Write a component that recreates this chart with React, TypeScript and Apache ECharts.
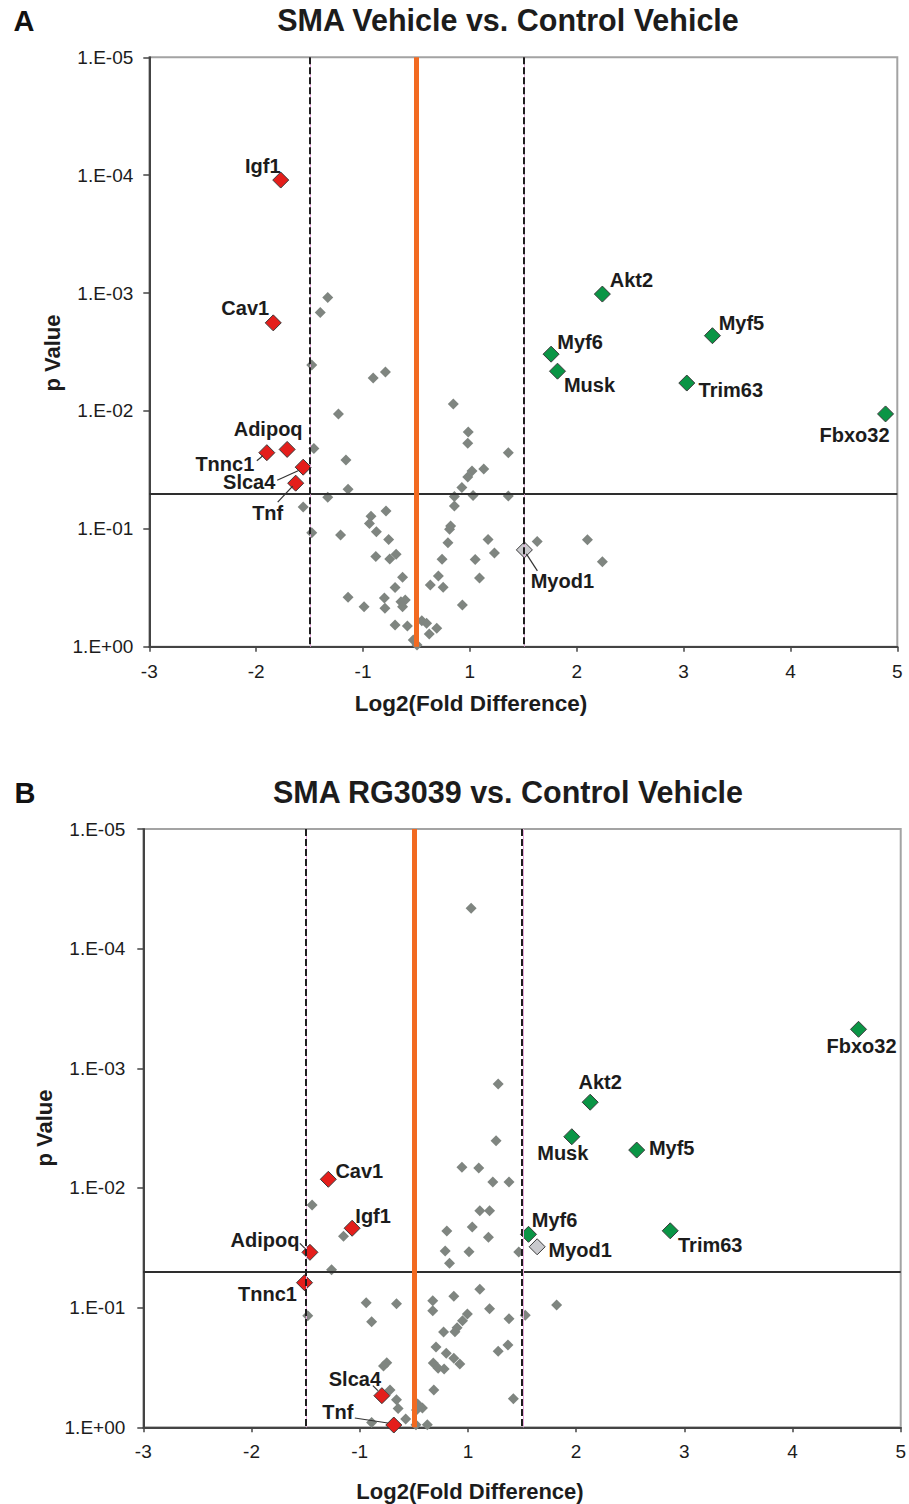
import React, { useEffect, useRef } from "react";
import * as echarts from "echarts";

const FONT = '"Liberation Sans", Arial, Helvetica, sans-serif';

// Axis tick labels (the original axis skips 0: -1 and 1 are adjacent ticks)
const xTickLabels = ["-3", "-2", "-1", "1", "2", "3", "4", "5"];
const yTickLabels = ["1.E-05", "1.E-04", "1.E-03", "1.E-02", "1.E-01", "1.E+00"];

const foldThreshold = 1.5;
const pThreshold = 0.05;

const titleA = "SMA Vehicle vs. Control Vehicle";
const titleB = "SMA RG3039 vs. Control Vehicle";
const xTitle = "Log2(Fold Difference)";
const yTitle = "p Value";

// ---------- Panel A ----------
const aGrayX = [-1.33, -1.4, -1.48, -0.81, -0.58, 0.69, -1.23, 0.97, 0.96, 1.36, -1.46, -1.16, 1.02, 1.13, 0.96, 0.85, 0.71, 1.03, 1.36, -1.14, -1.33, -1.56, -1.48, -1.21, -0.57, -0.85, -0.88, -0.75, -0.52, -0.76, -0.5, -0.38, -0.26, -0.4, -1.14, -0.98, -0.6, -0.59, -0.29, -0.21, -0.26, -0.4, -0.17, -0.06, 0.01, 0.1, 0.19, 0.24, 0.38, 0.26, 0.41, 0.5, 0.48, 0.59, 0.62, 0.64, 0.71, 1.17, 1.23, 1.05, 1.09, 0.86, 1.63, 2.1, 2.24];
const aGrayP = [0.00109, 0.00146, 0.00408, 0.00526, 0.00468, 0.00874, 0.0106, 0.0151, 0.0188, 0.0226, 0.0208, 0.0261, 0.0324, 0.0311, 0.0364, 0.0447, 0.0532, 0.0522, 0.0527, 0.0462, 0.054, 0.0653, 0.108, 0.113, 0.0706, 0.0783, 0.0902, 0.106, 0.123, 0.172, 0.18, 0.164, 0.258, 0.315, 0.381, 0.458, 0.386, 0.472, 0.415, 0.402, 0.458, 0.655, 0.667, 0.877, 0.968, 0.602, 0.634, 0.78, 0.698, 0.3, 0.251, 0.313, 0.181, 0.131, 0.101, 0.0946, 0.0641, 0.123, 0.16, 0.182, 0.261, 0.443, 0.128, 0.124, 0.19];

const aGenes = ["Myod1", "Igf1", "Cav1", "Adipoq", "Tnnc1", "Slca4", "Tnf", "Akt2", "Myf5", "Myf6", "Musk", "Trim63", "Fbxo32"];
const aGeneX = [1.51, -1.77, -1.84, -1.71, -1.9, -1.56, -1.63, 2.24, 3.27, 1.76, 1.82, 3.03, 4.89];
const aGeneP = [0.151, 0.00011, 0.00179, 0.0212, 0.0226, 0.03, 0.041, 0.00102, 0.0023, 0.0033, 0.0046, 0.0058, 0.0106];
const aGeneGroup = ["ns", "down", "down", "down", "down", "down", "down", "up", "up", "up", "up", "up", "up"];
const aLabelOffsets = [[38, 31], [-18, -14], [-28, -15], [-19, -20], [-42, 11], [-54, 15], [-28, 30], [29, -14], [29, -13], [29, -12], [32, 14], [44, 7], [-31, 21]];
const aLeaders: [string, number, number, number, number][] = [
  ["Tnnc1", -10, 8, -4, 3],
  ["Slca4", -26, 13, -4, 3],
  ["Tnf", -18, 19, -3, 3],
  ["Myod1", 2, 4, 13, 21],
];

// ---------- Panel B ----------
const bGrayX = [1.03, 1.28, 1.26, 0.89, 1.1, 1.23, 1.38, -1.44, 1.11, 1.2, -1.15, 0.61, 1.04, 1.19, 0.58, 1.01, 0.66, 1.47, -1.26, -0.88, -0.32, -0.78, -1.48, 0.35, 0.35, 0.74, 1.11, 1.2, 1.38, 1.53, 1.82, 0.99, 0.9, 0.8, 0.76, 0.55, 1.28, 1.37, 0.41, 0.6, 0.74, 0.85, 0.36, 0.45, 0.56, -0.5, -0.56, 0.37, 1.42, -0.44, -0.32, -0.29, 0.07, 0.16, 0.05, -0.15, 0.04, 0.25, -0.78];
const bGrayP = [0.000046, 0.00135, 0.00403, 0.00672, 0.00681, 0.00891, 0.00891, 0.0139, 0.0155, 0.0155, 0.0253, 0.0229, 0.0212, 0.0258, 0.0336, 0.0341, 0.0426, 0.0343, 0.0482, 0.091, 0.0927, 0.131, 0.117, 0.0875, 0.106, 0.0804, 0.0703, 0.102, 0.124, 0.116, 0.095, 0.113, 0.129, 0.147, 0.159, 0.16, 0.231, 0.205, 0.213, 0.241, 0.265, 0.296, 0.29, 0.321, 0.326, 0.289, 0.307, 0.488, 0.577, 0.488, 0.588, 0.697, 0.638, 0.69, 0.717, 0.853, 0.951, 0.951, 0.912];

const bGenes = ["Myod1", "Cav1", "Igf1", "Adipoq", "Tnnc1", "Slca4", "Tnf", "Fbxo32", "Akt2", "Musk", "Myf5", "Myf6", "Trim63"];
const bGeneX = [1.64, -1.29, -1.07, -1.46, -1.51, -0.59, -0.37, 4.61, 2.13, 1.96, 2.56, 1.56, 2.87];
const bGeneP = [0.031, 0.00846, 0.0217, 0.0345, 0.0619, 0.544, 0.957, 0.000472, 0.00192, 0.00373, 0.00482, 0.0244, 0.0228];
const bGeneGroup = ["ns", "down", "down", "down", "down", "down", "down", "up", "up", "up", "up", "up", "up"];
const bLabelOffsets = [[43, 3], [31, -8], [21, -12], [-45, -12], [-37, 11], [-27, -17], [-56, -13], [3, 17], [10, -20], [-9, 16], [35, -2], [26, -14], [40, 14]];
const bLeaders: [string, number, number, number, number][] = [
  ["Adipoq", -10, -9, -5, -4],
  ["Slca4", -9, -10, -4, -5],
  ["Tnf", -39, -7, -6, -2],
];

const groupColor: Record<string, string> = { down: "#e41e1b", up: "#0a9545", ns: "#c9c9cd" };

// map the displayed fold-difference value onto the (gap-less) axis position
function toAxis(v: number) {
  if (v <= -1) return v + 3;
  if (v >= 1) return v + 2;
  return 2.5 + v / 2;
}

function panelSeries(
  i: number,
  genes: string[],
  geneX: number[],
  geneP: number[],
  geneGroup: string[],
  offsets: number[][],
  grayX: number[],
  grayP: number[],
  leaders: [string, number, number, number, number][]
) {
  const pinkShift = 0.01;
  return [
    {
      type: "scatter",
      xAxisIndex: i,
      yAxisIndex: i,
      data: [],
      z: 1,
      silent: true,
      markLine: {
        silent: true,
        symbol: ["none", "none"],
        label: { show: false },
        animation: false,
        data: [
          { yAxis: pThreshold, lineStyle: { color: "#2e2e2e", width: 2, type: "solid", opacity: 1 } },
          { xAxis: toAxis(-foldThreshold) + pinkShift, lineStyle: { color: "#e7a9dc", width: 1, type: "solid", opacity: 1 } },
          { xAxis: toAxis(foldThreshold) + pinkShift, lineStyle: { color: "#e7a9dc", width: 1, type: "solid", opacity: 1 } },
          { xAxis: toAxis(-foldThreshold), lineStyle: { color: "#1e1e1e", width: 2, type: [7, 3], opacity: 1 } },
          { xAxis: toAxis(foldThreshold), lineStyle: { color: "#1e1e1e", width: 2, type: [7, 3], opacity: 1 } },
          { xAxis: toAxis(0), lineStyle: { color: "#f26a21", width: 5, type: "solid", opacity: 1 } },
        ],
      },
    },
    {
      type: "scatter",
      xAxisIndex: i,
      yAxisIndex: i,
      symbol: "diamond",
      symbolSize: 11,
      itemStyle: { color: "#7f8580", opacity: 1 },
      z: 3,
      silent: true,
      data: grayX.map((x, k) => [toAxis(x), grayP[k]]),
    },
    {
      type: "scatter",
      xAxisIndex: i,
      yAxisIndex: i,
      symbol: "diamond",
      symbolSize: 16,
      z: 4,
      silent: true,
      itemStyle: { opacity: 1 },
      label: {
        show: true,
        position: "inside",
        formatter: "{b}",
        fontFamily: FONT,
        fontSize: 20,
        fontWeight: "bold",
        color: "#1c1c1c",
      },
      data: genes.map((g, k) => ({
        name: g,
        value: [toAxis(geneX[k]), geneP[k]],
        itemStyle: { color: groupColor[geneGroup[k]], borderColor: "#3a3a3a", borderWidth: 1, opacity: 1 },
        label: { offset: offsets[k] },
      })),
    },
    {
      type: "custom",
      xAxisIndex: i,
      yAxisIndex: i,
      z: 5,
      silent: true,
      encode: { x: 0, y: 1 },
      renderItem: (params: any, api: any) => {
        const c = api.coord([api.value(0), api.value(1)]);
        return {
          type: "line",
          shape: {
            x1: c[0] + api.value(2),
            y1: c[1] + api.value(3),
            x2: c[0] + api.value(4),
            y2: c[1] + api.value(5),
          },
          style: { stroke: "#333", lineWidth: 1.2 },
        };
      },
      data: leaders.map((l) => {
        const k = genes.indexOf(l[0]);
        return [toAxis(geneX[k]), geneP[k], l[1], l[2], l[3], l[4]];
      }),
    },
  ];
}

export default function App() {
  const ref = useRef<HTMLDivElement>(null);
  useEffect(() => {
    if (!ref.current) return;
    const chart = echarts.init(ref.current, undefined, { renderer: "svg" });
    const grids = [
      { left: 149.3, top: 57.3, width: 748, height: 589.4 },
      { left: 143.3, top: 829, width: 757.7, height: 598.3 },
    ];
    const option: any = {
      animation: false,
      backgroundColor: "#ffffff",
      textStyle: { fontFamily: FONT },
      grid: grids.map((g) => ({
        ...g,
        show: true,
        borderColor: "#a3a3a3",
        borderWidth: 2,
        backgroundColor: "transparent",
        containLabel: false,
      })),
      xAxis: [0, 1].map((i) => ({
        type: "value",
        gridIndex: i,
        min: 0,
        max: 7,
        interval: 1,
        axisLine: { show: true, onZero: false, lineStyle: { color: "#444", width: 2 } },
        axisTick: { show: true, inside: false, length: 5, lineStyle: { color: "#444", width: 1.5 } },
        axisLabel: {
          formatter: (v: number) => xTickLabels[Math.round(v)] ?? "",
          fontSize: 19,
          color: "#1c1c1c",
          margin: 15,
          fontFamily: FONT,
        },
        splitLine: { show: false },
      })),
      yAxis: [0, 1].map((i) => ({
        type: "log",
        logBase: 10,
        gridIndex: i,
        min: 1e-5,
        max: 1,
        inverse: true,
        splitNumber: 5,
        axisLine: { show: true, onZero: false, lineStyle: { color: "#444", width: 2 } },
        axisTick: { show: true, inside: false, length: 6, lineStyle: { color: "#444", width: 1.5 } },
        axisLabel: {
          formatter: (v: number) => yTickLabels[Math.round(Math.log10(v)) + 5] ?? "",
          fontSize: 19,
          color: "#1c1c1c",
          margin: i === 0 ? 16 : 18,
          fontFamily: FONT,
        },
        splitLine: { show: false },
        minorTick: { show: false },
      })),
      series: [
        ...panelSeries(0, aGenes, aGeneX, aGeneP, aGeneGroup, aLabelOffsets, aGrayX, aGrayP, aLeaders),
        ...panelSeries(1, bGenes, bGeneX, bGeneP, bGeneGroup, bLabelOffsets, bGrayX, bGrayP, bLeaders),
      ],
      graphic: [
        { type: "text", x: 24, y: 21, style: { text: "A", font: `bold 29px ${FONT}`, fill: "#111", align: "center", verticalAlign: "middle" } },
        { type: "text", x: 25, y: 793, style: { text: "B", font: `bold 29px ${FONT}`, fill: "#111", align: "center", verticalAlign: "middle" } },
        { type: "text", x: 508, y: 20, style: { text: titleA, font: `bold 30.5px ${FONT}`, fill: "#1c1c1c", align: "center", verticalAlign: "middle" } },
        { type: "text", x: 508, y: 792, style: { text: titleB, font: `bold 30.5px ${FONT}`, fill: "#1c1c1c", align: "center", verticalAlign: "middle" } },
        { type: "text", x: 471, y: 703, style: { text: xTitle, font: `bold 22.5px ${FONT}`, fill: "#1c1c1c", align: "center", verticalAlign: "middle" } },
        { type: "text", x: 470, y: 1491, style: { text: xTitle, font: `bold 22px ${FONT}`, fill: "#1c1c1c", align: "center", verticalAlign: "middle" } },
        { type: "text", x: 52, y: 353, rotation: Math.PI / 2, style: { text: yTitle, font: `bold 22px ${FONT}`, fill: "#1c1c1c", align: "center", verticalAlign: "middle" } },
        { type: "text", x: 44, y: 1128, rotation: Math.PI / 2, style: { text: yTitle, font: `bold 22px ${FONT}`, fill: "#1c1c1c", align: "center", verticalAlign: "middle" } },
      ],
    };
    chart.setOption(option);
    return () => chart.dispose();
  }, []);
  return (
    <div
      ref={ref}
      style={{ position: "absolute", left: 0, top: 0, width: 909, height: 1504, background: "#fff" }}
    />
  );
}
